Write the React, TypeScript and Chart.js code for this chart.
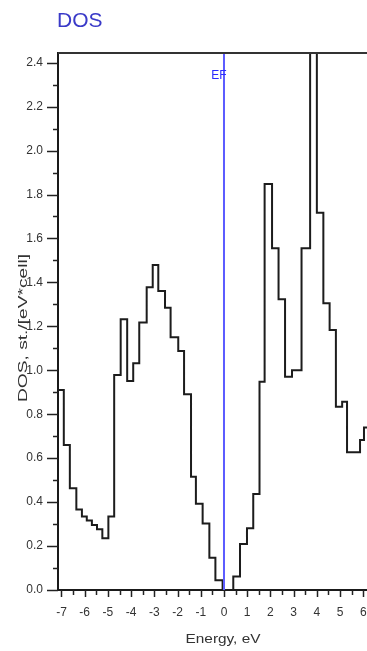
import React, { useEffect, useRef } from 'react';
import { Chart, registerables } from 'chart.js';

Chart.register(...registerables);

// Step edges of the DOS histogram (eV) and the DOS value held until the next edge
const energyEdges = [
  -7.15, -6.9, -6.64, -6.36, -6.12, -5.91, -5.69, -5.47, -5.24, -4.98,
  -4.73, -4.45, -4.17, -3.91, -3.65, -3.33, -3.07, -2.83, -2.54, -2.3,
  -1.97, -1.72, -1.42, -1.21, -0.92, -0.63, -0.37, -0.06, 0.4, 0.69,
  0.99, 1.26, 1.53, 1.75, 2.07, 2.35, 2.63, 2.93, 3.34, 3.71,
  4.0, 4.28, 4.55, 4.82, 5.09, 5.3, 5.86, 6.03, 6.16,
];
const dosValues = [
  0.91, 0.66, 0.463, 0.366, 0.334, 0.316, 0.296, 0.276, 0.235, 0.334,
  0.979, 1.232, 0.951, 1.032, 1.217, 1.378, 1.479, 1.361, 1.285, 1.15,
  1.088, 0.891, 0.515, 0.393, 0.303, 0.147, 0.044, 0.0, 0.062, 0.209,
  0.281, 0.437, 0.948, 1.848, 1.555, 1.323, 0.971, 1.0, 1.555, 2.6,
  1.717, 1.305, 1.183, 0.834, 0.857, 0.627, 0.683, 0.74,
];
const fermiLevel = [0, 0];
const fermiSpan = [0, 2.6];

const xTickValues = [-7, -6, -5, -4, -3, -2, -1, 0, 1, 2, 3, 4, 5, 6];
const yTickValues = [0, 0.2, 0.4, 0.6, 0.8, 1.0, 1.2, 1.4, 1.6, 1.8, 2.0, 2.2, 2.4];

const chartTitle = 'DOS';
const xTitle = 'Energy, eV';
const yTitle = 'DOS, st./[eV*cell]';
const fermiLabel = 'EF';

const X_MIN = -7.15;
const X_MAX = 6.16;
const Y_MIN = 0;
const Y_MAX = 2.444;

const FONT = '"Liberation Sans", Arial, sans-serif';

const decorPlugin = {
  id: 'decor',
  afterDraw(chart: any) {
    const ctx = chart.ctx;
    const { left, right, top, bottom } = chart.chartArea;
    const xs = chart.scales.x;
    const ys = chart.scales.y;
    ctx.save();
    // top frame line
    ctx.strokeStyle = '#333';
    ctx.lineWidth = 2;
    ctx.beginPath();
    ctx.moveTo(left, top);
    ctx.lineTo(right, top);
    ctx.stroke();
    // y tick marks (major 0.2, minor 0.1)
    ctx.strokeStyle = '#222';
    ctx.lineWidth = 1.5;
    for (let i = 0; i <= 24; i++) {
      const v = i / 10;
      const py = Math.round(ys.getPixelForValue(v)) + 0.5;
      const len = i % 2 === 0 ? 11 : 5;
      ctx.beginPath();
      ctx.moveTo(left - len, py);
      ctx.lineTo(left, py);
      ctx.stroke();
    }
    // x tick marks (major 1, minor 0.5)
    for (let i = -14; i <= 12; i++) {
      const v = i / 2;
      const px = Math.round(xs.getPixelForValue(v)) + 0.5;
      if (px < left - 1 || px > right) continue;
      const len = i % 2 === 0 ? 7 : 5;
      ctx.beginPath();
      ctx.moveTo(px, bottom);
      ctx.lineTo(px, bottom + len);
      ctx.stroke();
    }
    // chart title
    ctx.fillStyle = '#3a3ac8';
    ctx.font = `21px ${FONT}`;
    ctx.textAlign = 'left';
    ctx.textBaseline = 'alphabetic';
    ctx.fillText(chartTitle, 57, 27);
    // EF label
    ctx.fillStyle = '#2a2aff';
    ctx.font = `12px ${FONT}`;
    ctx.textAlign = 'center';
    ctx.textBaseline = 'middle';
    ctx.fillText(fermiLabel, xs.getPixelForValue(0) - 5, 76);
    // x title
    ctx.fillStyle = '#333';
    ctx.font = `12px ${FONT}`;
    const wx = ctx.measureText(xTitle).width;
    ctx.save();
    ctx.translate(223, 640);
    ctx.scale(75 / wx, 1);
    ctx.fillText(xTitle, 0, 0);
    ctx.restore();
    // y title
    const wy = ctx.measureText(yTitle).width;
    ctx.save();
    ctx.translate(24, 328);
    ctx.rotate(-Math.PI / 2);
    ctx.scale(148 / wy, 1);
    ctx.fillText(yTitle, 0, 0);
    ctx.restore();
    ctx.restore();
  },
};

export default function App() {
  const canvasRef = useRef<HTMLCanvasElement | null>(null);

  useEffect(() => {
    const canvas = canvasRef.current;
    if (!canvas) return;
    const stepPoints = energyEdges.map((x, i) => ({
      x,
      y: i < dosValues.length ? dosValues[i] : dosValues[dosValues.length - 1],
    }));
    const fermiPoints = fermiLevel.map((x, i) => ({ x, y: fermiSpan[i] }));

    const chart = new Chart(canvas, {
      type: 'line',
      data: {
        datasets: [
          {
            data: fermiPoints,
            borderColor: '#5c5cff',
            borderWidth: 2,
            pointRadius: 0,
            fill: false,
          },
          {
            data: stepPoints,
            stepped: 'before',
            borderColor: '#1c1c1c',
            borderWidth: 2,
            pointRadius: 0,
            fill: false,
          },
        ],
      },
      options: {
        animation: false,
        responsive: false,
        devicePixelRatio: 1,
        layout: { padding: { top: 53, left: 0, right: 0, bottom: 0 } },
        plugins: {
          legend: { display: false },
          tooltip: { enabled: false },
          title: { display: false },
        },
        scales: {
          x: {
            type: 'linear',
            min: X_MIN,
            max: X_MAX,
            afterFit: (s: any) => {
              s.height = 61;
              s.paddingLeft = 0;
              s.paddingRight = 0;
            },
            afterBuildTicks: (s: any) => {
              s.ticks = xTickValues.map((v) => ({ value: v }));
            },
            grid: { display: false, drawTicks: false },
            border: { display: true, color: '#1a1a1a', width: 2 },
            ticks: {
              autoSkip: false,
              maxRotation: 0,
              padding: 15,
              color: '#333',
              font: { family: FONT, size: 12 },
              callback: (v: any) => String(v),
            },
          },
          y: {
            type: 'linear',
            min: Y_MIN,
            max: Y_MAX,
            afterFit: (s: any) => {
              s.width = 58;
              s.paddingTop = 0;
              s.paddingBottom = 0;
            },
            afterBuildTicks: (s: any) => {
              s.ticks = yTickValues.map((v) => ({ value: v }));
            },
            grid: { display: false, drawTicks: false },
            border: { display: true, color: '#1a1a1a', width: 2 },
            ticks: {
              autoSkip: false,
              padding: 15,
              color: '#333',
              font: { family: FONT, size: 12 },
              callback: (v: any) => Number(v).toFixed(1),
            },
          },
        },
      },
      plugins: [decorPlugin],
    });
    return () => chart.destroy();
  }, []);

  return (
    <div style={{ position: 'absolute', left: 0, top: 0, width: 367, height: 651, background: '#fff' }}>
      <canvas ref={canvasRef} width={367} height={651} style={{ display: 'block', width: 367, height: 651 }} />
    </div>
  );
}
